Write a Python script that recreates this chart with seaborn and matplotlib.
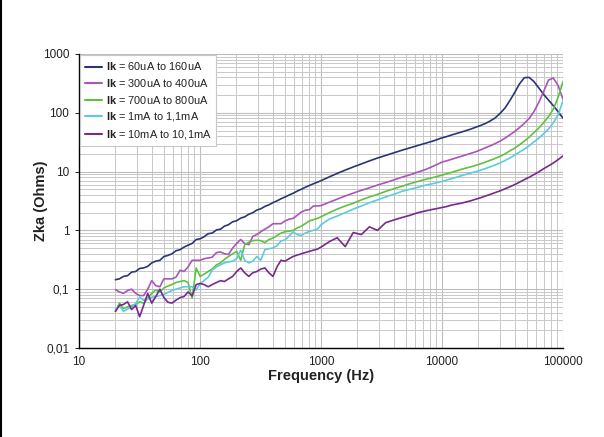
import matplotlib
matplotlib.use("Agg")
import matplotlib.pyplot as plt
import matplotlib.ticker as mticker
from matplotlib.lines import Line2D
import numpy as np
import pandas as pd
import seaborn as sns

# ---------------- data ----------------
freq = [20, 21.6, 23.3, 25.2, 27.2, 29.4, 31.7, 34.2, 37.0, 39.9,
        43.1, 46.6, 50.3, 54.3, 58.6, 63.3, 68.4, 73.8, 79.7, 86.1,
        93.0, 100.4, 108, 117, 126, 137, 148, 159, 172, 186,
        201, 217, 234, 253, 273, 295, 318, 344, 371, 401,
        433, 467, 505, 545, 588, 635, 686, 741, 800, 864,
        933, 1000, 1166, 1359, 1585, 1848, 2154, 2512, 2929, 3415,
        3981, 4642, 5412, 6310, 7356, 8577, 10000, 10965, 12023, 13183,
        14454, 15849, 17378, 19055, 20893, 22909, 25119, 27542, 30200, 33113,
        36308, 39811, 43652, 47863, 52481, 57544, 63096, 69183, 75858, 83176,
        91201, 100000]

z_60u = [0.145, 0.150, 0.165, 0.170, 0.195, 0.200, 0.225, 0.230, 0.245, 0.280,
         0.300, 0.310, 0.360, 0.375, 0.400, 0.450, 0.470, 0.520, 0.560, 0.600,
         0.700, 0.720, 0.780, 0.880, 0.900, 1.02, 1.05, 1.18, 1.25, 1.40,
         1.46, 1.62, 1.70, 1.88, 2.00, 2.22, 2.33, 2.56, 2.72, 2.97,
         3.18, 3.45, 3.70, 4.00, 4.28, 4.65, 5.00, 5.40, 5.80, 6.20,
         6.60, 7.00, 8.1, 9.3, 10.6, 12.0, 13.5, 15.2, 17.0, 18.8,
         20.8, 23.0, 25.3, 27.8, 30.5, 33.5, 37.5, 39.5, 42, 44.5,
         47, 50, 53, 57, 61, 66, 73, 82, 98, 120,
         160, 220, 310, 395, 400, 340, 265, 205, 165, 132,
         104, 81]

z_300u = [0.098, 0.090, 0.085, 0.095, 0.100, 0.085, 0.078, 0.078, 0.100, 0.140,
          0.115, 0.110, 0.150, 0.150, 0.150, 0.160, 0.210, 0.200, 0.240, 0.310,
          0.310, 0.310, 0.330, 0.340, 0.350, 0.420, 0.430, 0.400, 0.390, 0.500,
          0.600, 0.700, 0.600, 0.570, 0.790, 0.850, 0.950, 1.05, 1.15, 1.30,
          1.30, 1.30, 1.45, 1.55, 1.60, 1.80, 2.05, 2.20, 2.25, 2.60,
          2.60, 2.65, 3.0, 3.4, 3.85, 4.3, 4.8, 5.3, 5.9, 6.5,
          7.2, 8.0, 8.8, 9.8, 10.9, 12.5, 14.5, 15.3, 16.2, 17.2,
          18.2, 19.3, 20.5, 21.8, 23.5, 25.5, 27.5, 30, 33, 37,
          42, 48, 56, 66, 80, 105, 150, 230, 360, 390,
          290, 170]

z_700u = [0.042, 0.058, 0.047, 0.050, 0.053, 0.055, 0.061, 0.058, 0.070, 0.085,
          0.097, 0.090, 0.105, 0.113, 0.120, 0.130, 0.135, 0.140, 0.130, 0.070,
          0.230, 0.165, 0.180, 0.200, 0.220, 0.260, 0.280, 0.320, 0.360, 0.400,
          0.440, 0.310, 0.570, 0.630, 0.670, 0.680, 0.670, 0.620, 0.700, 0.740,
          0.820, 0.900, 0.950, 0.970, 1.00, 1.10, 1.18, 1.30, 1.45, 1.52,
          1.60, 1.70, 2.0, 2.3, 2.6, 2.9, 3.3, 3.7, 4.1, 4.6,
          5.1, 5.6, 6.2, 6.8, 7.4, 8.0, 8.7, 9.2, 9.7, 10.3,
          10.9, 11.5, 12.1, 12.8, 13.6, 14.5, 15.6, 16.8, 18.2, 20,
          22.5, 25, 28.5, 33, 38.5, 46, 55, 68, 86, 115,
          185, 340]

z_1m = [0.046, 0.052, 0.042, 0.046, 0.050, 0.057, 0.073, 0.065, 0.068, 0.073,
        0.075, 0.078, 0.082, 0.088, 0.095, 0.100, 0.105, 0.110, 0.110, 0.110,
        0.097, 0.125, 0.140, 0.160, 0.210, 0.240, 0.260, 0.280, 0.290, 0.300,
        0.330, 0.460, 0.310, 0.280, 0.300, 0.360, 0.310, 0.470, 0.490, 0.500,
        0.550, 0.660, 0.690, 0.800, 0.940, 0.850, 0.820, 0.900, 0.960, 1.00,
        1.05, 1.25, 1.55, 1.75, 2.0, 2.3, 2.6, 2.95, 3.3, 3.7,
        4.1, 4.6, 5.0, 5.4, 5.9, 6.3, 6.8, 7.2, 7.6, 8.0,
        8.5, 9.0, 9.5, 10.0, 10.6, 11.3, 12.1, 13.0, 14.0, 15.4,
        17.0, 19, 21.5, 24, 27.5, 32, 37, 44, 53, 68,
        92, 160]

z_10m = [0.042, 0.053, 0.055, 0.061, 0.045, 0.053, 0.034, 0.053, 0.085, 0.058,
         0.075, 0.100, 0.072, 0.060, 0.058, 0.065, 0.072, 0.075, 0.090, 0.077,
         0.120, 0.125, 0.120, 0.110, 0.120, 0.130, 0.140, 0.135, 0.150, 0.165,
         0.200, 0.230, 0.190, 0.165, 0.190, 0.200, 0.220, 0.230, 0.190, 0.165,
         0.240, 0.310, 0.300, 0.330, 0.360, 0.380, 0.400, 0.420, 0.440, 0.460,
         0.480, 0.520, 0.64, 0.75, 0.53, 0.92, 0.85, 1.15, 1.0, 1.35,
         1.5, 1.65, 1.8, 2.0, 2.15, 2.3, 2.45, 2.55, 2.7, 2.8,
         2.9, 3.05, 3.2, 3.4, 3.6, 3.85, 4.1, 4.4, 4.7, 5.1,
         5.5, 6.0, 6.6, 7.3, 8.0, 8.9, 9.9, 11.2, 12.5, 14.0,
         16.0, 18.5]

series_labels = [r"$\mathbf{Ik}$ = 60uA to 160uA",
                 r"$\mathbf{Ik}$ = 300uA to 400uA",
                 r"$\mathbf{Ik}$ = 700uA to 800uA",
                 r"$\mathbf{Ik}$ = 1mA to 1,1mA",
                 r"$\mathbf{Ik}$ = 10mA to 10,1mA"]
series_values = [z_60u, z_300u, z_700u, z_1m, z_10m]
colors = ["#2b3575", "#a955b9", "#5ec23e", "#5ccbe2", "#772a8e"]

x_ticks = [10, 100, 1000, 10000, 100000]
x_tick_labels = ["10", "100", "1000", "10000", "100000"]
y_ticks = [0.01, 0.1, 1, 10, 100, 1000]
y_tick_labels = ["0,01", "0,1", "1", "10", "100", "1000"]

# ---------------- frame ----------------
rows = []
for lab, vals in zip(series_labels, series_values):
    for f, v in zip(freq, vals):
        rows.append({"freq": f, "z": v, "series": lab})
df = pd.DataFrame(rows)

sns.set_theme(style="white")
plt.rcParams["font.family"] = ["Liberation Sans", "DejaVu Sans"]
plt.rcParams["mathtext.fontset"] = "custom"
plt.rcParams["mathtext.rm"] = "Liberation Sans"
plt.rcParams["mathtext.bf"] = "Liberation Sans:bold"

fig = plt.figure(figsize=(6.04, 4.37), dpi=100)
ax = fig.add_axes([79 / 604, 1 - 348 / 437, (563 - 79) / 604, (348 - 54) / 437])

sns.lineplot(data=df, x="freq", y="z", hue="series", hue_order=series_labels,
             palette=colors, linewidth=1.2, ax=ax, legend=True, sort=False)

ax.set_xscale("log")
ax.set_yscale("log")
ax.set_xlim(10, 100000)
ax.set_ylim(0.01, 1000)

ax.xaxis.set_major_locator(mticker.FixedLocator(x_ticks))
ax.xaxis.set_major_formatter(mticker.FixedFormatter(x_tick_labels))
ax.yaxis.set_major_locator(mticker.FixedLocator(y_ticks))
ax.yaxis.set_major_formatter(mticker.FixedFormatter(y_tick_labels))
ax.xaxis.set_minor_locator(mticker.LogLocator(base=10, subs=np.arange(2, 10)))
ax.yaxis.set_minor_locator(mticker.LogLocator(base=10, subs=np.arange(2, 10)))
ax.xaxis.set_minor_formatter(mticker.NullFormatter())
ax.yaxis.set_minor_formatter(mticker.NullFormatter())

ax.grid(True, which="major", color="#bdbdbd", linewidth=0.8)
ax.grid(True, which="minor", color="#c8c8c8", linewidth=0.7)
ax.set_axisbelow(True)

for s in ["top", "right"]:
    ax.spines[s].set_visible(False)
for s in ["left", "bottom"]:
    ax.spines[s].set_color("black")
    ax.spines[s].set_linewidth(1.0)

ax.tick_params(axis="both", which="major", labelsize=8.5, length=3, width=0.6,
               color="black", pad=4, labelcolor="#222222", left=True, bottom=False)
ax.tick_params(axis="both", which="minor", length=0)
ax.tick_params(axis="x", which="major", pad=3)

ax.set_xlabel("Frequency (Hz)", fontsize=10.5, fontweight="bold", color="#222222")
ax.set_ylabel("Zka (Ohms)", fontsize=10.5, fontweight="bold", color="#222222")
ax.xaxis.set_label_coords(0.5, -0.073)
ax.yaxis.set_label_coords(-0.064, 0.5)

leg = ax.legend(loc="upper left", bbox_to_anchor=(0.002, 0.995), fontsize=7.9, frameon=True,
                fancybox=False, edgecolor="#c8c8c8", framealpha=1.0, handlelength=1.6,
                handletextpad=0.3, labelspacing=0.42, borderpad=0.45, borderaxespad=0.0)
leg.get_frame().set_linewidth(0.8)
for line in leg.get_lines():
    line.set_linewidth(1.5)
for t in leg.get_texts():
    t.set_color("#222222")

# left border line of the figure
fig.add_artist(Line2D([0.002, 0.002], [0, 1], transform=fig.transFigure,
                      color="black", linewidth=1.5))

fig.savefig("out.png", dpi=100)
